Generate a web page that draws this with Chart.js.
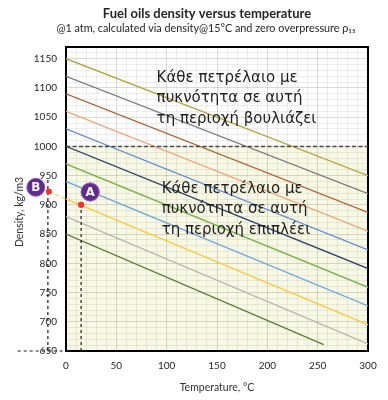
<!DOCTYPE html>
<html><head><meta charset="utf-8">
<script src="https://cdn.jsdelivr.net/npm/chart.js@4/dist/chart.umd.min.js"></script>
<style>html,body{margin:0;padding:0;background:#fff}canvas{display:block}</style>
</head><body>
<canvas id="c" width="388" height="400"></canvas>
<script>
// ---- data ----
const rho15 = [850, 880, 910, 940, 970, 1000, 1030, 1060, 1090, 1120, 1150];   // density at 0 °C start of each line
const endTemp = [256, 300, 300, 300, 300, 300, 300, 300, 300, 300, 300];
const endRho = [661, 662, 695, 727, 759, 791, 823, 855, 887, 919, 950];
const lineColors = ['#5b7c32', '#b4b4ac', '#ffc72a', '#70a8dc', '#78b44a', '#2e4868',
                    '#5f8cd2', '#efa373', '#b0612f', '#7a7a7a', '#b9a443'];
const xTicks = [0, 50, 100, 150, 200, 250, 300];
const yTicks = [650, 700, 750, 800, 850, 900, 950, 1000, 1050, 1100, 1150];
const sinkLimit = 1000;
const pointA = {x: 15, y: 900};
const pointB = {x: -17, y: 923};
const baseRho = 650;
const badgeLetters = ['A', 'B'];
const badgeAt = [{x: 24, y: 922}, {x: -30, y: 930}];
const textSink = ['Κάθε πετρέλαιο με', 'πυκνότητα σε αυτή', 'τη περιοχή βουλιάζει'];
const textFloat = ['Κάθε πετρέλαιο με', 'πυκνότητα σε αυτή', 'τη περιοχή επιπλέει'];
const textSinkAt = {x: 90, y: 1117};
const textFloatAt = {x: 95, y: 927};
const titleText = 'Fuel oils density versus temperature';
const subtitleText = '@1 atm, calculated via density@15°C and zero overpressure ρ₁₅';
const xTitle = 'Temperature, °C';
const yTitle = 'Density, kg/m3';

// ---- datasets ----
const datasets = [];
datasets.push({ // badges
  type: 'scatter', data: badgeAt, pointRadius: 9, pointBackgroundColor: '#62298e',
  pointBorderColor: '#8d62b3', pointBorderWidth: 1, clip: false, order: 0
});
datasets.push({
  type: 'scatter', data: [pointA, pointB], pointRadius: 3, pointBackgroundColor: '#ff3030',
  pointBorderWidth: 0, clip: false, order: 1
});
const dashBlack = {type: 'line', borderColor: '#1a1a1a', borderWidth: 1.2, borderDash: [3, 3],
  pointRadius: 0, clip: false, order: 2, fill: false};
datasets.push(Object.assign({}, dashBlack, {data: [{x: pointA.x, y: baseRho}, pointA]}));
datasets.push(Object.assign({}, dashBlack, {data: [{x: pointB.x - 1, y: baseRho}, {x: pointB.x - 1, y: 945}]}));
datasets.push(Object.assign({}, dashBlack, {data: [{x: -48, y: baseRho}, {x: 0, y: baseRho}]}));
datasets.push({type: 'line', data: [pointB, {x: 0, y: rho15[2]}], borderColor: '#f3d470',
  borderWidth: 1.4, borderDash: [4, 3], pointRadius: 0, clip: false, order: 2});
datasets.push({type: 'line', data: [{x: 0, y: sinkLimit}, {x: 300, y: sinkLimit}], borderColor: '#4a4a4a',
  borderWidth: 1.5, borderDash: [4, 2.5], pointRadius: 0, order: 2});
rho15.forEach((r, i) => {
  datasets.push({type: 'line', data: [{x: 0, y: r}, {x: endTemp[i], y: endRho[i]}],
    borderColor: lineColors[i], borderWidth: 1.3, pointRadius: 0, order: 3});
});

const deco = {
  id: 'deco',
  beforeDraw(chart) {
    const {ctx, chartArea: a, scales: {y}} = chart;
    ctx.save();
    ctx.fillStyle = '#fff';
    ctx.fillRect(0, 0, chart.width, chart.height);
    const yt = y.getPixelForValue(sinkLimit);
    ctx.fillStyle = '#f7f9e5';
    ctx.fillRect(a.left, yt, a.right - a.left, a.bottom - yt);
    ctx.restore();
  },
  beforeDatasetsDraw(chart) {
    const {ctx, chartArea: a} = chart;
    ctx.save();
    ctx.strokeStyle = '#000';
    ctx.lineWidth = 2;
    ctx.strokeRect(a.left, a.top, a.right - a.left, a.bottom - a.top);
    ctx.restore();
  },
  afterDatasetsDraw(chart) {
    const {ctx, scales: {x, y}} = chart;
    const full = {left: 0, top: 0, right: chart.width, bottom: chart.height};
    ctx.save();
    // points that lie outside the plot area (the library skips them by default)
    chart.getDatasetMeta(1).data.forEach(el => el.draw(ctx, full));
    const meta = chart.getDatasetMeta(0);
    meta.data.forEach(el => el.draw(ctx, full));
    // badge letters
    ctx.fillStyle = '#fff';
    ctx.font = 'bold 12px "DejaVu Sans", sans-serif';
    ctx.textAlign = 'center'; ctx.textBaseline = 'middle';
    meta.data.forEach((el, i) => ctx.fillText(badgeLetters[i], el.x, el.y + 0.5));
    // region texts
    ctx.fillStyle = '#1f1f1f';
    ctx.font = '15px "DejaVu Sans", sans-serif';
    ctx.textAlign = 'left';
    const drawBlock = (lines, at) => {
      const px = x.getPixelForValue(at.x), py = y.getPixelForValue(at.y);
      lines.forEach((t, i) => ctx.fillText(t, px, py + i * 20.5));
    };
    drawBlock(textSink, textSinkAt);
    drawBlock(textFloat, textFloatAt);
    // titles
    ctx.textAlign = 'center';
    ctx.fillStyle = '#262626';
    ctx.font = 'bold 13px Lato, "DejaVu Sans", sans-serif';
    ctx.fillText(titleText, 207, 14);
    ctx.font = '10.8px Lato, "DejaVu Sans", sans-serif';
    ctx.fillText(subtitleText, 206, 29);
    // y title
    ctx.translate(20, 212);
    ctx.rotate(-Math.PI / 2);
    ctx.font = '10.5px Lato, "DejaVu Sans", sans-serif';
    ctx.fillStyle = '#333';
    ctx.fillText(yTitle, 0, 0);
    ctx.restore();
  }
};

const gridColor = c => (c.tick && c.tick.value % 50 === 0) ? 'rgba(0,0,0,0.14)' : 'rgba(0,0,0,0.065)';
const tickFont = {family: 'Lato, "DejaVu Sans", sans-serif', size: 10};

new Chart(document.getElementById('c'), {
  type: 'scatter',
  data: {datasets},
  plugins: [deco],
  options: {
    responsive: false, animation: false, devicePixelRatio: 1,
    layout: {padding: {top: 47, right: 20, bottom: 0, left: 0}},
    plugins: {legend: {display: false}, tooltip: {enabled: false}, title: {display: false}},
    scales: {
      x: {
        type: 'linear', min: 0, max: 300,
        ticks: {stepSize: 10, autoSkip: false, maxRotation: 0, padding: 9, color: '#262626', font: tickFont,
          callback: v => xTicks.includes(v) ? String(v) : ''},
        grid: {color: gridColor, drawTicks: false},
        border: {display: false},
        title: {display: true, text: xTitle, color: '#333',
          font: {family: 'Lato, "DejaVu Sans", sans-serif', size: 10.5}, padding: {top: 0, bottom: 6}},
        afterFit: s => { s.height = 49; }
      },
      y: {
        type: 'linear', min: 650, max: 1170,
        ticks: {stepSize: 10, autoSkip: false, padding: 9, color: '#262626', font: tickFont,
          callback: v => yTicks.includes(v) ? String(v) : ''},
        grid: {color: gridColor, drawTicks: false},
        border: {display: false},
        afterFit: s => { s.width = 66; }
      }
    }
  }
});
</script>
</body></html>
